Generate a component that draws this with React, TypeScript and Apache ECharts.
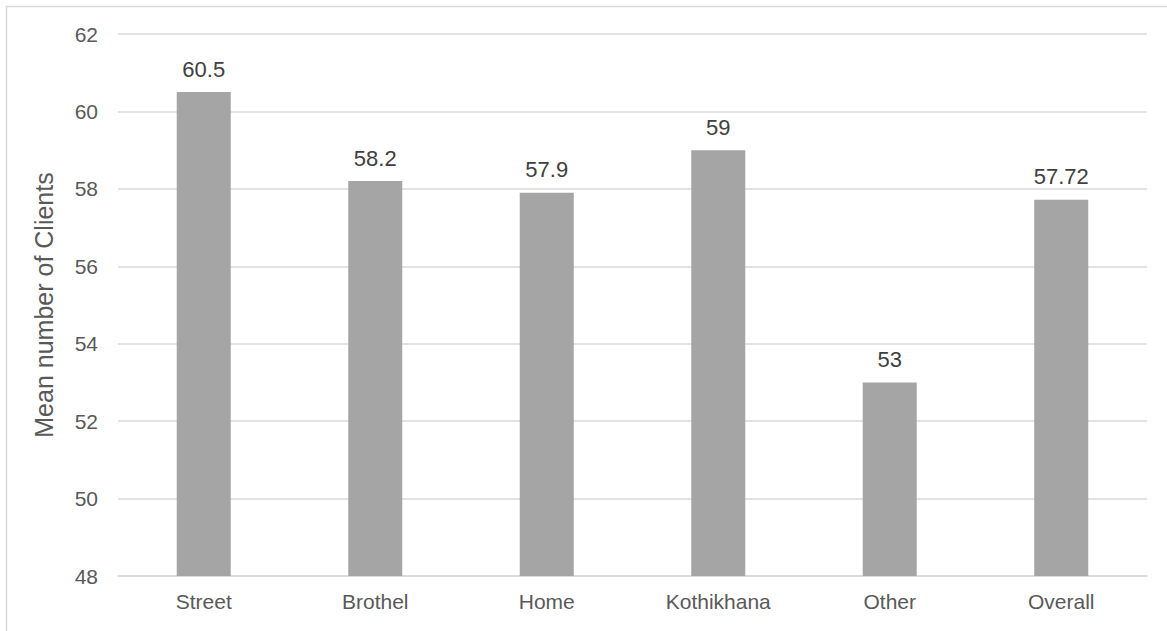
import React, { useEffect, useRef } from "react";
import * as echarts from "echarts";

// Mean number of clients by place of work
const categories = ["Street", "Brothel", "Home", "Kothikhana", "Other", "Overall"];
const meanClients = [60.5, 58.2, 57.9, 59, 53, 57.72];
const yMin = 48;
const yMax = 62;
const yStep = 2;

const FONT = "'Liberation Sans', Arial, sans-serif";

export default function App() {
  const ref = useRef<HTMLDivElement>(null);

  useEffect(() => {
    if (!ref.current) return;
    const chart = echarts.init(ref.current, null, { renderer: "svg" });
    chart.setOption({
      animation: false,
      backgroundColor: "#ffffff",
      textStyle: { fontFamily: FONT },
      graphic: [
        {
          type: "rect",
          shape: { x: 6.5, y: 6.5, width: 1300, height: 800 },
          style: { fill: "none", stroke: "#d9d9d9", lineWidth: 1.5 },
          silent: true,
        },
      ],
      grid: { left: 118, right: 20, top: 34, bottom: 55 },
      xAxis: {
        type: "category",
        data: categories,
        axisLine: { lineStyle: { color: "#d9d9d9", width: 1.5 } },
        axisTick: { show: false },
        axisLabel: { color: "#595959", fontSize: 21, fontFamily: FONT, margin: 15 },
      },
      yAxis: {
        type: "value",
        min: yMin,
        max: yMax,
        interval: yStep,
        name: "Mean number of Clients",
        nameLocation: "middle",
        nameGap: 62,
        nameTextStyle: { color: "#595959", fontSize: 25, fontFamily: FONT },
        axisLine: { show: false },
        axisTick: { show: false },
        axisLabel: { color: "#595959", fontSize: 21, fontFamily: FONT, margin: 20 },
        splitLine: { lineStyle: { color: "#d9d9d9", width: 1.5 } },
      },
      series: [
        {
          type: "bar",
          data: meanClients,
          barWidth: "31.5%",
          itemStyle: { color: "#a5a5a5" },
          label: {
            show: true,
            position: "top",
            distance: 12,
            color: "#404040",
            fontSize: 22,
            fontFamily: FONT,
          },
        },
      ],
    });
    return () => chart.dispose();
  }, []);

  return (
    <div
      ref={ref}
      style={{ position: "fixed", left: 0, top: 0, width: 1167, height: 631 }}
    />
  );
}
